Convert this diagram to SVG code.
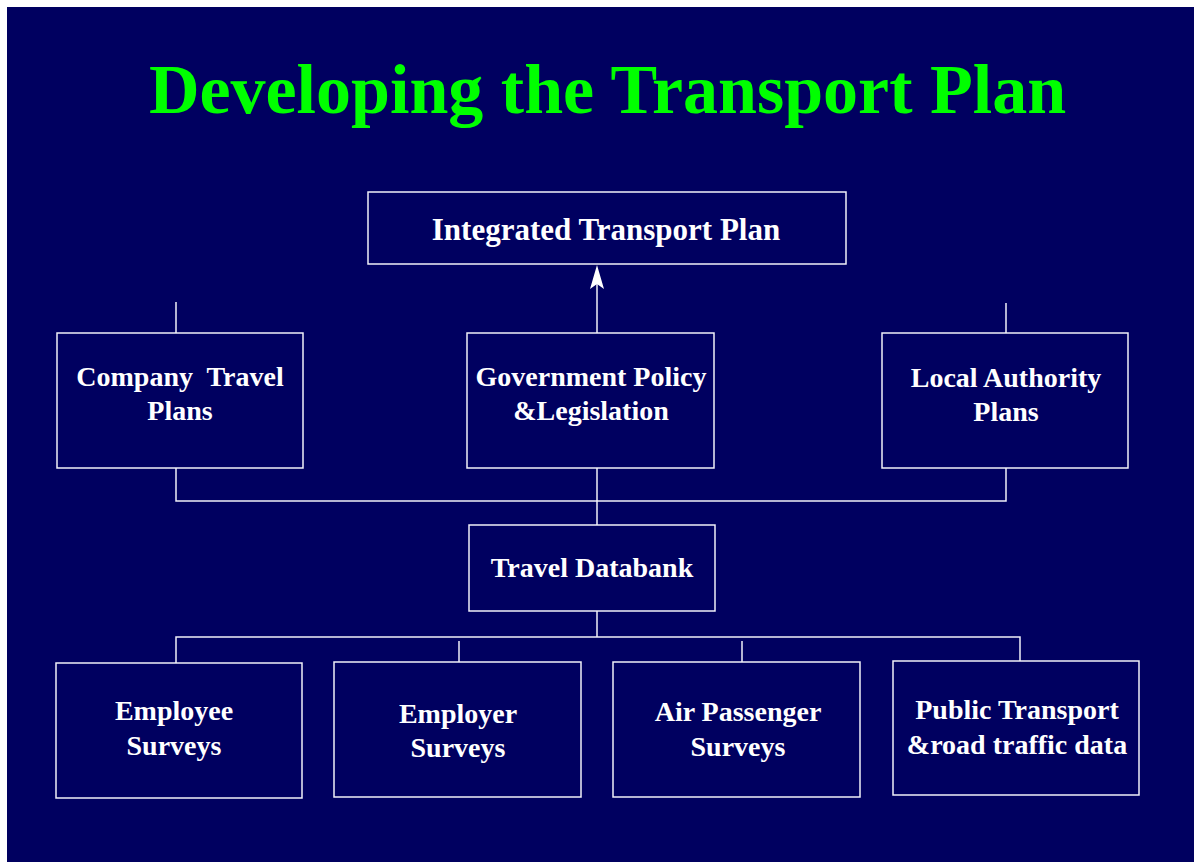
<svg xmlns="http://www.w3.org/2000/svg" width="1194" height="862" viewBox="0 0 1194 862">
  <defs>
    <style>
      .bg { fill: #000060; }
      .box { fill: #000060; stroke: #f0f0f8; stroke-width: 1.5; }
      .lbl { font-family: "Liberation Serif", "Times New Roman", serif; font-weight: bold; font-size: 28px; fill: #ffffff; text-anchor: middle; }
      .title { font-family: "Liberation Serif", "Times New Roman", serif; font-weight: bold; font-size: 70px; fill: #00ff00; text-anchor: middle; }
      .conn { stroke: #f0f0f8; stroke-width: 1.5; fill: none; }
    </style>
    <marker id="arrow" viewBox="0 0 24 14" refX="5" refY="7" markerWidth="24" markerHeight="14" markerUnits="userSpaceOnUse" orient="auto">
      <path d="M0,0 L24,7 L0,14 L5,7 Z" fill="#ffffff"/>
    </marker>
  </defs>
  <rect x="0" y="0" width="1194" height="862" fill="#ffffff"/>
  <rect class="bg" x="7" y="7" width="1187" height="855"/>

  <text class="title" x="607.5" y="113">Developing the Transport Plan</text>

  <g id="connectors">
    <line class="conn" x1="597" y1="333" x2="597" y2="284" marker-end="url(#arrow)"/>
    <line class="conn" x1="176" y1="302" x2="176" y2="333"/>
    <line class="conn" x1="1006" y1="303" x2="1006" y2="333"/>
    <polyline class="conn" points="176,468 176,501 1006,501 1006,468"/>
    <line class="conn" x1="597" y1="468" x2="597" y2="525"/>
    <line class="conn" x1="597" y1="611" x2="597" y2="637"/>
    <polyline class="conn" points="176,663 176,637 1020,637 1020,661"/>
    <line class="conn" x1="459" y1="641" x2="459" y2="662"/>
    <line class="conn" x1="742" y1="641" x2="742" y2="662"/>
  </g>

  <g id="integrated-transport-plan">
    <rect class="box" x="368" y="192" width="478" height="72"/>
    <text class="lbl" x="606" y="240" style="font-size:31px">Integrated Transport Plan</text>
  </g>

  <g id="company-travel-plans">
    <rect class="box" x="57" y="333" width="246" height="135"/>
    <text class="lbl" x="180" y="386" xml:space="preserve">Company  Travel</text>
    <text class="lbl" x="180" y="420">Plans</text>
  </g>

  <g id="government-policy">
    <rect class="box" x="467" y="333" width="247" height="135"/>
    <text class="lbl" x="591" y="386">Government Policy</text>
    <text class="lbl" x="591" y="420">&amp;Legislation</text>
  </g>

  <g id="local-authority-plans">
    <rect class="box" x="882" y="333" width="246" height="135"/>
    <text class="lbl" x="1006" y="387">Local Authority</text>
    <text class="lbl" x="1006" y="421">Plans</text>
  </g>

  <g id="travel-databank">
    <rect class="box" x="469" y="525" width="246" height="86"/>
    <text class="lbl" x="592" y="577">Travel Databank</text>
  </g>

  <g id="employee-surveys">
    <rect class="box" x="56" y="663" width="246" height="135"/>
    <text class="lbl" x="174" y="720">Employee</text>
    <text class="lbl" x="174" y="755">Surveys</text>
  </g>

  <g id="employer-surveys">
    <rect class="box" x="334" y="662" width="247" height="135"/>
    <text class="lbl" x="458" y="723">Employer</text>
    <text class="lbl" x="458" y="757">Surveys</text>
  </g>

  <g id="air-passenger-surveys">
    <rect class="box" x="613" y="662" width="247" height="135"/>
    <text class="lbl" x="738" y="721">Air Passenger</text>
    <text class="lbl" x="738" y="756">Surveys</text>
  </g>

  <g id="public-transport">
    <rect class="box" x="893" y="661" width="246" height="134"/>
    <text class="lbl" x="1017" y="719">Public Transport</text>
    <text class="lbl" x="1017" y="754">&amp;road traffic data</text>
  </g>
</svg>
